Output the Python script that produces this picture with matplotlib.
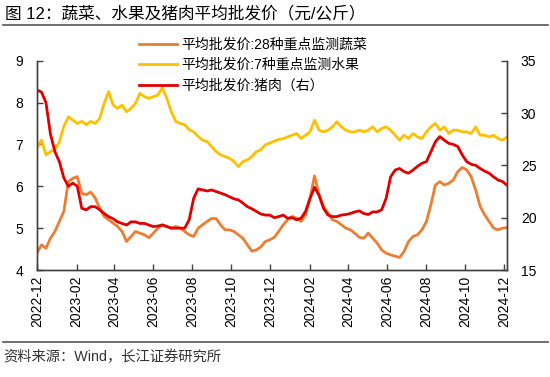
import numpy as np
import pandas as pd
import matplotlib
matplotlib.use('Agg')
import matplotlib.pyplot as plt
import matplotlib.dates as mdates
from matplotlib.lines import Line2D

plt.rcParams['font.family'] = ['Liberation Sans', 'Noto Sans CJK SC', 'DejaVu Sans']
plt.rcParams['axes.unicode_minus'] = False

# weekly samples, starting 2022-12-01
dates = pd.date_range('2022-12-01', periods=106, freq='7D')

veg = [4.40, 4.60, 4.52, 4.76, 4.92, 5.16, 5.40, 6.11, 6.19, 6.23,
       5.83, 5.80, 5.86, 5.72, 5.48, 5.28, 5.20, 5.12, 5.04, 4.92,
       4.68, 4.80, 4.92, 4.88, 4.84, 4.77, 4.88, 5.00, 5.08, 5.04,
       5.00, 5.04, 5.00, 4.92, 4.84, 4.80, 5.00, 5.08, 5.16, 5.23,
       5.23, 5.08, 4.96, 4.96, 4.92, 4.84, 4.76, 4.60, 4.45, 4.48,
       4.55, 4.68, 4.72, 4.78, 4.92, 5.08, 5.20, 5.28, 5.24, 5.16,
       5.32, 5.72, 6.25, 5.80, 5.52, 5.36, 5.20, 5.16, 5.08, 5.00,
       4.96, 4.88, 4.78, 4.76, 4.88, 4.76, 4.64, 4.48, 4.40, 4.36,
       4.33, 4.30, 4.44, 4.68, 4.80, 4.84, 4.96, 5.16, 5.56, 6.03,
       6.11, 6.03, 6.07, 6.15, 6.35, 6.45, 6.39, 6.23, 5.91, 5.52,
       5.32, 5.16, 5.00, 4.96, 5.00, 5.01]

fruit = [6.91, 7.10, 6.75, 6.83, 6.87, 7.07, 7.43, 7.66, 7.58, 7.50,
         7.55, 7.47, 7.55, 7.50, 7.62, 7.98, 8.26, 7.94, 7.86, 7.94,
         7.78, 7.86, 7.98, 8.22, 8.14, 8.10, 8.14, 8.18, 8.35, 8.10,
         7.78, 7.55, 7.50, 7.47, 7.35, 7.30, 7.19, 7.10, 7.07, 6.95,
         6.83, 6.75, 6.71, 6.67, 6.59, 6.47, 6.59, 6.63, 6.71, 6.83,
         6.87, 6.99, 7.03, 7.08, 7.12, 7.14, 7.18, 7.22, 7.26, 7.14,
         7.22, 7.30, 7.58, 7.34, 7.30, 7.34, 7.42, 7.54, 7.42, 7.34,
         7.30, 7.30, 7.34, 7.30, 7.34, 7.42, 7.30, 7.38, 7.42, 7.34,
         7.22, 7.10, 7.22, 7.14, 7.26, 7.18, 7.14, 7.30, 7.42, 7.50,
         7.34, 7.42, 7.26, 7.34, 7.34, 7.30, 7.30, 7.26, 7.42, 7.22,
         7.22, 7.18, 7.22, 7.14, 7.10, 7.18]

pork = [32.2, 32.0, 31.0, 28.0, 26.3, 25.35, 23.8, 23.0, 23.3, 23.0,
        20.9, 20.75, 21.05, 21.05, 20.75, 20.4, 20.1, 19.9, 19.6, 19.45,
        19.3, 19.6, 19.6, 19.45, 19.45, 19.3, 19.15, 19.2, 19.3, 19.15,
        19.0, 19.0, 19.0, 19.0, 19.8, 21.85, 22.75, 22.65, 22.55, 22.65,
        22.5, 22.35, 22.2, 22.0, 21.8, 21.7, 21.4, 21.05, 20.85, 20.6,
        20.35, 20.25, 20.25, 20.0, 20.1, 20.25, 19.95, 20.0, 19.8, 19.95,
        20.6, 21.85, 22.9, 22.15, 20.9, 20.25, 20.1, 20.1, 20.25, 20.3,
        20.4, 20.55, 20.65, 20.4, 20.3, 20.55, 20.55, 20.75, 21.85, 23.9,
        24.55, 24.7, 24.4, 24.25, 24.55, 24.9, 25.2, 25.35, 26.3, 27.25,
        27.75, 27.4, 27.1, 27.0, 26.8, 26.0, 25.35, 25.1, 25.0, 24.7,
        24.45, 24.25, 23.9, 23.6, 23.45, 23.1]

labels = ['平均批发价:28种重点监测蔬菜', '平均批发价:7种重点监测水果', '平均批发价:猪肉（右）']
colors = ['#ED7D31', '#FFC000', '#E00000']

fig = plt.figure(figsize=(5.5, 3.77), dpi=100)
ax = fig.add_axes([37 / 550, 1 - 270 / 377, 470 / 550, (270 - 60.7) / 377])
ax2 = ax.twinx()

l1, = ax.plot(dates, veg, color=colors[0], lw=2.0, label=labels[0])
l2, = ax.plot(dates, fruit, color=colors[1], lw=2.0, label=labels[1])
l3, = ax2.plot(dates, pork, color=colors[2], lw=2.0, label=labels[2])

ax.set_xlim(dates[0], dates[-1])
ax.set_ylim(4, 9)
ax2.set_ylim(15, 35)
ax.set_yticks(np.arange(4, 10, 1))
ax2.set_yticks(np.arange(15, 40, 5))

ticks = pd.date_range('2022-12-01', '2024-12-01', freq='2MS')
ax.set_xticks(ticks)
ax.xaxis.set_major_formatter(mdates.DateFormatter('%Y-%m'))
for lab in ax.get_xticklabels():
    lab.set_rotation(90)

for a in (ax, ax2):
    a.spines['top'].set_visible(False)
    for s in a.spines.values():
        s.set_color('#404040')
        s.set_linewidth(1.0)
    a.tick_params(direction='in', length=4, width=1, colors='#404040',
                  labelcolor='black', labelsize=10)
ax.tick_params(axis='y', pad=10)
ax2.tick_params(axis='y', pad=10)
ax.tick_params(axis='x', pad=4)

fig.legend(handles=[l1, l2, l3], loc='upper left', bbox_to_anchor=(139 / 550, 1 - 38 / 377),
           frameon=False, fontsize=10, handlelength=2.7, handletextpad=0.35,
           labelspacing=0.45, borderaxespad=0, borderpad=0)

fig.text(5 / 550, 1 - 13 / 377, '图 12：蔬菜、水果及猪肉平均批发价（元/公斤）',
         fontsize=12, va='center', ha='left', color='black')
fig.add_artist(Line2D([3 / 550, 548 / 550], [1 - 25 / 377, 1 - 25 / 377],
                      color='#555555', lw=1.2, transform=fig.transFigure))
fig.add_artist(Line2D([3 / 550, 548 / 550], [1 - 342 / 377, 1 - 342 / 377],
                      color='#555555', lw=1.2, transform=fig.transFigure))
fig.text(3 / 550, 1 - 357 / 377, '资料来源：Wind，长江证券研究所',
         fontsize=10.3, va='center', ha='left', color='#333333')

fig.savefig('out.png', dpi=100)
